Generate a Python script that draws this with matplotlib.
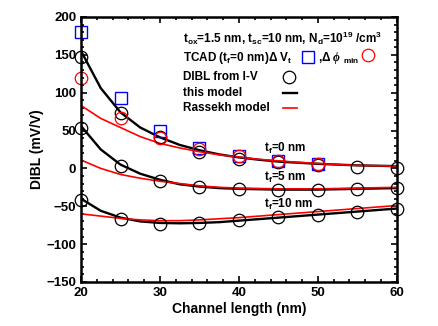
import matplotlib
matplotlib.use("Agg")
import matplotlib.pyplot as plt
from matplotlib.ticker import MultipleLocator
from matplotlib.lines import Line2D

plt.rcParams['font.family'] = ['Liberation Sans', 'DejaVu Sans']
plt.rcParams['font.weight'] = 'bold'
plt.rcParams['mathtext.fontset'] = 'custom'
plt.rcParams['mathtext.rm'] = 'Liberation Sans:bold'
plt.rcParams['mathtext.bf'] = 'Liberation Sans:bold'
plt.rcParams['mathtext.it'] = 'Liberation Serif:italic'

# Channel length points (nm)
L_iv = [20, 25, 30, 35, 40, 45, 50, 55, 60]
L_tcad = [20, 25, 30, 35, 40, 45, 50]
L_model = [20, 22.5, 25, 27.5, 30, 32.5, 35, 37.5, 40, 42.5, 45, 47.5, 50, 52.5, 55, 57.5, 60]

# DIBL from I-V (mV/V)
iv_tf0 = [147, 73, 41, 22, 13, 8, 5, 2, 1]
iv_tf5 = [53, 3, -17, -25, -27, -28, -28, -27, -26]
iv_tf10 = [-42, -67, -73, -72, -68, -64, -61, -57, -54]

# TCAD (tf = 0 nm)
tcad_dvt = [180, 93, 50, 27, 16, 10, 6]
tcad_dphi = [119, 67, 40, 26, 16, 10, 6]

# this model
this_tf0 = [155, 106, 74, 54, 41, 31, 24, 18.5, 14.5, 11.5, 9, 7.5, 6, 5, 4, 3.5, 3]
this_tf5 = [56, 25, 5, -7, -15, -21, -24, -26, -27, -27.5, -28, -28, -28, -27.5, -27, -26.5, -26]
this_tf10 = [-40, -56, -65, -70, -72, -72.5, -72, -71, -69, -67, -65, -63, -61, -59, -57, -55, -53]

# Rassekh model
ras_tf0 = [83, 66, 54, 42, 33, 27, 22, 18, 15, 12, 10, 8, 6.5, 5, 4, 3.5, 3]
ras_tf5 = [11, 0, -8, -13, -17, -20, -23, -25, -26, -26.5, -27, -27, -27, -26.5, -26, -25.5, -25]
ras_tf10 = [-60, -63, -66, -68, -69, -69, -68, -66.5, -65, -63, -61, -59, -57, -55, -53, -51, -49]

fig = plt.figure(figsize=(4.38, 3.26), dpi=100)
ax = fig.add_axes([0.185, 0.135, 0.721, 0.813])

for y in (this_tf0, this_tf5, this_tf10):
    ax.plot(L_model, y, color='black', lw=1.7)
for y in (ras_tf0, ras_tf5, ras_tf10):
    ax.plot(L_model, y, color='red', lw=1.2)

for y in (iv_tf0, iv_tf5, iv_tf10):
    ax.plot(L_iv, y, 'o', mfc='none', mec='black', ms=9, mew=0.9, clip_on=False)
ax.plot(L_tcad, tcad_dvt, 's', mfc='none', mec='blue', ms=8, mew=1.0, clip_on=False)
ax.plot(L_tcad, tcad_dphi, 'o', mfc='none', mec='red', ms=9, mew=0.9, clip_on=False)

ax.set_xlim(20, 60)
ax.set_ylim(-150, 200)
ax.xaxis.set_major_locator(MultipleLocator(10))
ax.xaxis.set_minor_locator(MultipleLocator(2))
ax.yaxis.set_major_locator(MultipleLocator(50))
ax.yaxis.set_minor_locator(MultipleLocator(10))
ax.tick_params(which='both', direction='in', top=True, right=True, width=1.2)
ax.tick_params(which='major', length=4, labelsize=9.5)
ax.tick_params(which='minor', length=2.5)
for lab in ax.get_xticklabels() + ax.get_yticklabels():
    lab.set_fontweight('bold')
for s in ax.spines.values():
    s.set_linewidth(1.8)

ax.set_xlabel('Channel length (nm)', fontsize=10, fontweight='bold', labelpad=2)
ax.set_ylabel('DIBL (mV/V)', fontsize=10, fontweight='bold', labelpad=2)

# curve labels
ax.text(43.2, 26, r'$\mathregular{t_f}$=0 nm', fontsize=8.5, fontweight='bold', va='center')
ax.text(43.2, -12, r'$\mathregular{t_f}$=5 nm', fontsize=8.5, fontweight='bold', va='center')
ax.text(43.2, -48, r'$\mathregular{t_f}$=10 nm', fontsize=8.5, fontweight='bold', va='center')

# legend block (figure pixel coordinates)
W, H = 438, 326
def ft(x, y, s, **kw):
    fig.text(x / W, 1 - y / H, s, fontsize=8.5, fontweight='bold', va='center', **kw)

ft(183, 38, r'$\mathregular{t_{ox}}$=1.5 nm, $\mathregular{t_{sc}}$=10 nm, $\mathregular{N_d}$=10$\mathregular{^{19}}$ /cm$\mathregular{^3}$')
ft(183, 58, r'TCAD ($\mathregular{t_f}$=0 nm)$\Delta$ $\mathregular{V_t}$')
ft(318, 58, r',$\Delta$ $\phi$ $\mathregular{_{min}}$')
ft(183, 77, 'DIBL from I-V')
ft(183, 93, 'this model')
ft(183, 108, 'Rassekh model')

fig.add_artist(Line2D([308 / W], [1 - 57 / H], marker='s', mfc='none', mec='blue', ms=8, mew=1.0))
fig.add_artist(Line2D([368 / W], [1 - 55 / H], marker='o', mfc='none', mec='red', ms=9, mew=0.9))
fig.add_artist(Line2D([289 / W], [1 - 77 / H], marker='o', mfc='none', mec='black', ms=9, mew=0.9))
fig.add_artist(Line2D([283 / W, 297 / W], [1 - 93 / H] * 2, color='black', lw=1.7))
fig.add_artist(Line2D([283 / W, 297 / W], [1 - 108 / H] * 2, color='red', lw=1.2))

fig.savefig('out.png', dpi=100)
